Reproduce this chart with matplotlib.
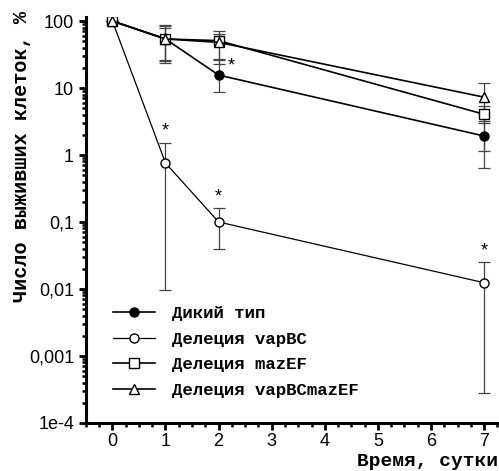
import numpy as np
import matplotlib.pyplot as plt
from matplotlib.ticker import LogLocator, FixedLocator, MultipleLocator, NullFormatter

plt.rcParams['font.family'] = ['Liberation Sans', 'DejaVu Sans']

days = [0, 1, 2, 7]

wild = [100, 54, 15.6, 1.92]
wild_hi = [100, 87, 26, 3.2]
wild_lo = [100, 26, 8.8, 1.15]

vapbc = [100, 0.76, 0.1, 0.0124]
vapbc_hi = [100, 1.53, 0.16, 0.025]
vapbc_lo = [100, 0.0097, 0.039, 0.00028]

mazef = [100, 54, 51, 4.05]
mazef_hi = [100, 80, 72, 5.3]
mazef_lo = [100, 24, 23, 2.97]

both = [100, 54, 48, 7.3]
both_hi = [100, 84, 64, 11.8]
both_lo = [100, 25, 27, 0.65]

labels = ['Дикий тип', 'Делеция vapBC', 'Делеция mazEF', 'Делеция vapBCmazEF']
y_ticks = [1e-4, 1e-3, 1e-2, 1e-1, 1, 10, 100]
y_labels = ['1e-4', '0,001', '0,01', '0,1', '1', '10', '100']
star_points = [(1, 1.53), (2, 0.16), (7, 0.025)]

fig = plt.figure(figsize=(4.99, 4.71), dpi=100)
ax = fig.add_axes([0.172, 0.102, 0.828, 0.862])

series = [
    (wild, wild_hi, wild_lo, 'o', 'black', 1.2),
    (vapbc, vapbc_hi, vapbc_lo, 'o', 'white', 0.9),
    (mazef, mazef_hi, mazef_lo, 's', 'white', 1.2),
    (both, both_hi, both_lo, '^', 'white', 1.2),
]
for (y, hi, lo, m, fc, lw), lab in zip(series, labels):
    y = np.array(y)
    err = [y - np.array(lo), np.array(hi) - y]
    ax.errorbar(days, y, yerr=err, fmt='none', ecolor='#444444',
                elinewidth=0.9, capsize=4.5, capthick=0.9, zorder=2)
    ax.plot(days, y, color='black', lw=lw, marker=m, markersize=6.5,
            markerfacecolor=fc, markeredgecolor='black', markeredgewidth=1.0,
            label=lab, zorder=3)

for x, y in star_points:
    ax.text(x, y * 1.12, '*', ha='center', va='bottom', fontsize=13)
ax.text(2.18, 21, '*', ha='left', va='center', fontsize=13)

ax.set_yscale('log')
ax.set_ylim(1e-4, 115)
ax.set_xlim(-0.5, 7.28)
ax.yaxis.set_major_locator(FixedLocator(y_ticks))
ax.set_yticklabels(y_labels)
ax.yaxis.set_minor_locator(LogLocator(base=10, subs=np.arange(2, 10)))
ax.yaxis.set_minor_formatter(NullFormatter())
ax.xaxis.set_major_locator(MultipleLocator(1))
ax.xaxis.set_minor_locator(MultipleLocator(0.25))
ax.tick_params(axis='both', which='major', labelsize=13, direction='out',
               length=5, width=2)
ax.tick_params(axis='x', which='major', pad=2.5)
ax.tick_params(axis='both', which='minor', direction='out', length=3, width=1.8)

for s in ['top', 'right']:
    ax.spines[s].set_visible(False)
for s in ['left', 'bottom']:
    ax.spines[s].set_linewidth(2.2)

mono = {'family': 'Liberation Mono', 'weight': 'bold', 'size': 14}
fig.text(0.998, 1 - 466 / 471, 'Время, сутки', ha='right', va='baseline',
         fontdict=mono)
fig.text(0.044, 1 - 157 / 471, 'Число выживших клеток, %', rotation=90,
         ha='center', va='center', fontdict=dict(mono, size=14.5))

ax.legend(loc='lower left', bbox_to_anchor=(0.05, 0.045), frameon=False,
          prop={'family': 'Liberation Mono', 'weight': 'bold', 'size': 12.5},
          handlelength=2.4, labelspacing=0.6, handletextpad=1.0,
          borderaxespad=0.0)

fig.savefig('out.png', dpi=100)
